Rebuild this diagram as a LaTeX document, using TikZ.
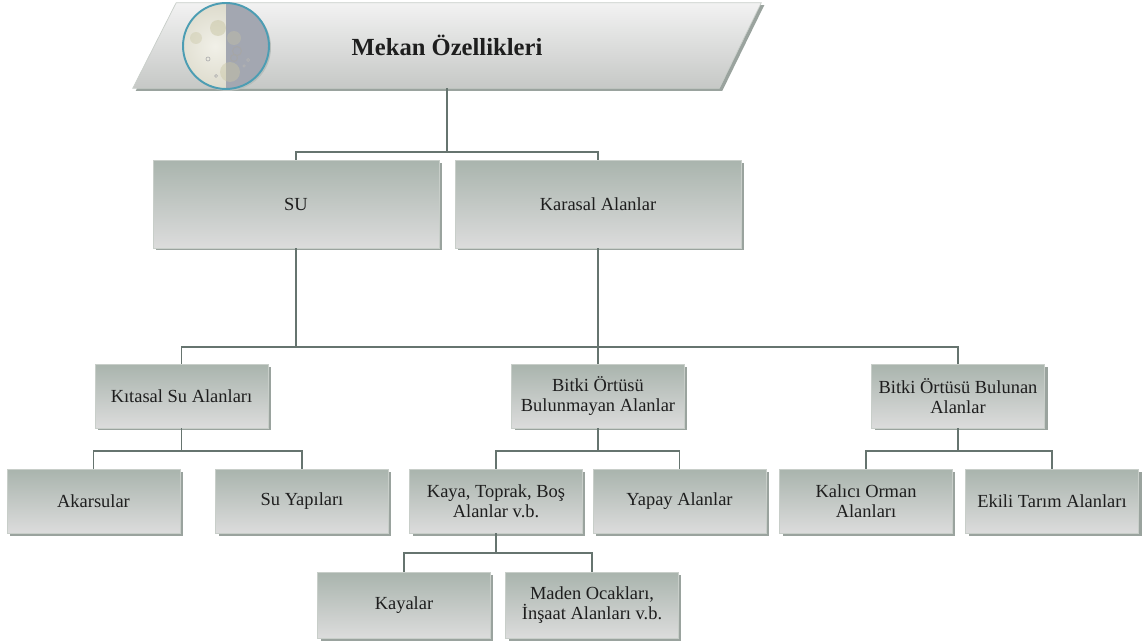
\documentclass[tikz,border=0pt]{standalone}
\usepackage{fontspec}
\setmainfont{Liberation Serif}
\usepackage{tikz}
\usetikzlibrary{positioning, shadows, backgrounds}

\definecolor{kutuUst}{HTML}{A9B4AD}
\definecolor{kutuAlt}{HTML}{DCDCDC}
\definecolor{kutuKenar}{HTML}{C8CEC9}
\definecolor{golge}{HTML}{9AA39E}
\definecolor{hat}{HTML}{66746F}
\definecolor{yazi}{HTML}{1E1E1E}
\definecolor{baslikUst}{HTML}{F2F2F2}
\definecolor{baslikAlt}{HTML}{C6C8C6}
\definecolor{ayAcik}{HTML}{F1F0E8}
\definecolor{ayOrta}{HTML}{DCDACB}
\definecolor{ayKoyu}{HTML}{A3A7B1}
\definecolor{ayLeke}{HTML}{C9C6A4}
\definecolor{ayKenar}{HTML}{4C9DB3}

\begin{document}
\begin{tikzpicture}[
    x=0.02cm, y=-0.02cm,
    font=\fontsize{10.5}{11.5}\selectfont, text=yazi,
    bag/.style={draw=hat, line width=1.1pt},
    kutu/.style={rectangle, draw=kutuKenar, line width=0.4pt, top color=kutuUst, bottom color=kutuAlt,
        minimum width=3.46cm, minimum height=1.28cm, align=center, inner sep=2pt,
        drop shadow={shadow xshift=0.06cm, shadow yshift=-0.05cm, fill=golge, opacity=1}},
    buyuk/.style={kutu, minimum width=5.72cm, minimum height=1.76cm},
    baslikkutu/.style={rectangle, minimum width=12.56cm, minimum height=1.7cm, inner sep=0pt,
        font=\fontsize{14}{16}\selectfont\bfseries},
    baslikdolgu/.style={draw=kutuKenar, line width=0.4pt, top color=baslikUst, bottom color=baslikAlt,
        drop shadow={shadow xshift=0.06cm, shadow yshift=-0.05cm, fill=golge, opacity=1}},
]
\useasboundingbox (0,0) rectangle (1145,642);

% ============ Title ============
\node[baslikkutu] (baslik) at (447,45.5) {Mekan Özellikleri};
\begin{scope}[on background layer]
    \path[baslikdolgu] ([xshift=0.87cm]baslik.north west) -- (baslik.north east)
        -- ([xshift=-0.84cm]baslik.south east) -- (baslik.south west) -- cycle;
\end{scope}

% moon icon
\fill[golge!70] (227.5,47.5) circle[radius=0.87cm];
\begin{scope}
    \clip (226,46) circle[radius=0.86cm];
    \shade[inner color=ayAcik, outer color=ayOrta] (215,46) circle[radius=0.9cm];
    \fill[ayKoyu] (226,0) rectangle (275,95);
    \fill[ayLeke, opacity=0.5] (218,28) circle[radius=0.16cm];
    \fill[ayLeke, opacity=0.45] (230,72) circle[radius=0.2cm];
    \fill[ayLeke, opacity=0.4] (196,38) circle[radius=0.12cm];
    \fill[ayLeke, opacity=0.35] (234,38) circle[radius=0.14cm];
    \draw[gray!70, line width=0.5pt] (237,51) circle[radius=0.09cm];
    \draw[gray!70, line width=0.5pt] (234,58) circle[radius=0.07cm];
    \draw[gray!60, line width=0.4pt] (208,59) circle[radius=0.04cm];
    \draw[gray!60, line width=0.4pt] (248,60) circle[radius=0.03cm];
    \draw[gray!60, line width=0.4pt] (244,66) circle[radius=0.025cm];
    \draw[gray!60, line width=0.4pt] (216,76) circle[radius=0.03cm];
\end{scope}
\draw[ayKenar, line width=1.1pt] (226,46) circle[radius=0.86cm];

% ============ Level 1 ============
\node[buyuk] (su) at (296,204) {SU};
\node[buyuk] (karasal) at (598,204) {Karasal Alanlar};

% ============ Level 2 ============
\node[kutu] (kitasal) at (181.5,396) {Kıtasal Su Alanları};
\node[kutu] (bulunmayan) at (598,396) {Bitki Örtüsü\\Bulunmayan Alanlar};
\node[kutu] (bulunan) at (958,396) {Bitki Örtüsü Bulunan\\Alanlar};

% ============ Level 3 ============
\node[kutu] (akarsular) at (93.5,501) {Akarsular};
\node[kutu] (suyapilari) at (302,501) {Su Yapıları};
\node[kutu] (kaya) at (496,501) {Kaya, Toprak, Boş\\Alanlar v.b.};
\node[kutu] (yapay) at (679.5,501) {Yapay Alanlar};
\node[kutu] (kalici) at (866,501) {Kalıcı Orman\\Alanları};
\node[kutu] (ekili) at (1052,501) {Ekili Tarım Alanları};

% ============ Level 4 ============
\node[kutu, minimum height=1.32cm] (kayalar) at (404,605) {Kayalar};
\node[kutu, minimum height=1.32cm] (maden) at (592,605) {Maden Ocakları,\\İnşaat Alanları v.b.};

% Connectors
\coordinate (ust) at (447,152);
\coordinate (orta) at (598,347);
\draw[bag] (baslik.south) -- (ust);
\draw[bag] (su.north) |- (ust) -| (karasal.north);

\draw[bag] (su.south) -- (su.south |- orta);
\draw[bag] (karasal.south) -- (bulunmayan.north);
\draw[bag] (kitasal.north) |- (orta) -| (bulunan.north);

\draw[bag] (kitasal.south) -- ++(0,23) coordinate (kb);
\draw[bag] (akarsular.north) |- (kb) -| (suyapilari.north);

\draw[bag] (bulunmayan.south) -- ++(0,23) coordinate (mb);
\draw[bag] (kaya.north) |- (mb) -| (yapay.north);

\draw[bag] (bulunan.south) -- ++(0,23) coordinate (nb);
\draw[bag] (kalici.north) |- (nb) -| (ekili.north);

\draw[bag] (kaya.south) -- ++(0,20) coordinate (yb);
\draw[bag] (kayalar.north) |- (yb) -| (maden.north);

\end{tikzpicture}
\end{document}
